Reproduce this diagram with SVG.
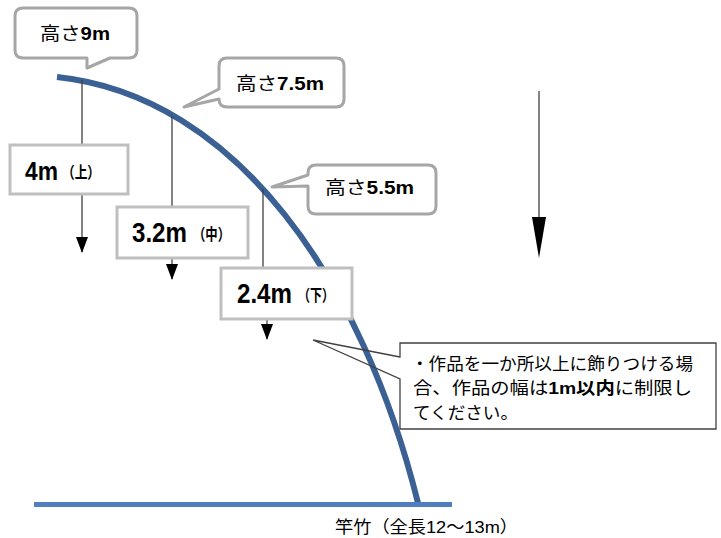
<svg xmlns="http://www.w3.org/2000/svg" width="721" height="538" viewBox="0 0 721 538">
<style>
.bg{fill:#ffffff}
.callout{fill:#ffffff;stroke:#a6a6a6;stroke-width:3;stroke-linejoin:round}
.vbox{fill:#ffffff;stroke:#bfbfbf;stroke-width:3}
.lead{stroke:#404040;stroke-width:1.3;fill:none}
.jp{font-family:"Liberation Sans","Noto Sans CJK JP",sans-serif;fill:#000}
.b{font-weight:bold}
.bamboo{fill:none;stroke:#3a6094;stroke-width:6}
.ground{stroke:#4f7fbe;stroke-width:5}
.note{fill:#ffffff}
.noteline{fill:none;stroke:#404040;stroke-width:1.3}
</style>
<defs>
<marker id="ah" markerUnits="userSpaceOnUse" markerWidth="16" markerHeight="14" refX="15" refY="6" orient="auto" viewBox="0 0 16 12">
<path d="M0,0 L16,6 L0,12 Z" fill="#000"/>
</marker>
</defs>
<rect class="bg" x="0" y="0" width="721" height="538"/>

<g id="bamboo">
<path class="bamboo" d="M57,77 C237,96 363,282 418,503"/>
<line class="ground" x1="34" y1="504.5" x2="452" y2="504.5"/>
</g>

<g id="connectors">
<line class="lead" x1="82" y1="80" x2="82" y2="145"/>
<line class="lead" x1="82" y1="194" x2="82" y2="252" marker-end="url(#ah)"/>
<line class="lead" x1="172" y1="116" x2="172" y2="207"/>
<line class="lead" x1="172" y1="258" x2="172" y2="279" marker-end="url(#ah)"/>
<line class="lead" x1="263" y1="189" x2="263" y2="268"/>
<line class="lead" x1="267" y1="319" x2="267" y2="339" marker-end="url(#ah)"/>
<line class="lead" x1="539" y1="91" x2="539" y2="220"/>
<polygon points="532,217 546,217 539,258" fill="#000"/>
</g>

<g id="callout-9m">
<path class="callout" d="M23,8 H129 Q137,8 137,16 V50 Q137,58 129,58 H110 L87,68 V58 H23 Q15,58 15,50 V16 Q15,8 23,8 Z"/>
<text class="jp" x="40" y="40" font-size="18" textLength="70" lengthAdjust="spacingAndGlyphs">高さ<tspan class="b">9m</tspan></text>
</g>

<g id="callout-7_5m">
<path class="callout" d="M227,58 H336 Q344,58 344,66 V99 Q344,107 336,107 H227 Q219,107 219,99 L184,107 L219,89 V66 Q219,58 227,58 Z"/>
<text class="jp" x="236" y="90" font-size="18" textLength="88" lengthAdjust="spacingAndGlyphs">高さ<tspan class="b">7.5m</tspan></text>
</g>

<g id="callout-5_5m">
<path class="callout" d="M316,165 H428 Q436,165 436,173 V206 Q436,214 428,214 H316 Q308,214 308,206 V186 L272,187 L308,175 V173 Q308,165 316,165 Z"/>
<text class="jp" x="325" y="194" font-size="18" textLength="89" lengthAdjust="spacingAndGlyphs">高さ<tspan class="b">5.5m</tspan></text>
</g>

<g id="box-4m">
<rect class="vbox" x="10" y="145" width="118" height="49"/>
<text class="jp b" x="25" y="180" font-size="25" textLength="33" lengthAdjust="spacingAndGlyphs">4m</text>
<text class="jp b" x="62" y="178" font-size="16" textLength="38" lengthAdjust="spacingAndGlyphs">（上）</text>
</g>

<g id="box-3_2m">
<rect class="vbox" x="117" y="207" width="131" height="51"/>
<text class="jp b" x="132" y="242" font-size="28" textLength="55" lengthAdjust="spacingAndGlyphs">3.2m</text>
<text class="jp b" x="193" y="240" font-size="16" textLength="37" lengthAdjust="spacingAndGlyphs">（中）</text>
</g>

<g id="box-2_4m">
<rect class="vbox" x="221" y="268" width="131" height="51"/>
<text class="jp b" x="237" y="303" font-size="28" textLength="55" lengthAdjust="spacingAndGlyphs">2.4m</text>
<text class="jp b" x="298" y="301" font-size="16" textLength="36" lengthAdjust="spacingAndGlyphs">（下）</text>
</g>

<g id="note">
<rect class="note" x="400" y="343" width="316" height="86"/>
<path class="noteline" d="M400,357 L313,340 L400,379 V429 H716 V343 H400 Z"/>
<text class="jp" x="411" y="370" font-size="17" textLength="282" lengthAdjust="spacingAndGlyphs">・作品を一か所以上に飾りつける場</text>
<text class="jp" x="413" y="394" font-size="17" textLength="279" lengthAdjust="spacingAndGlyphs">合、作品の幅は<tspan class="b">1m以内</tspan>に制限し</text>
<text class="jp" x="413" y="419" font-size="17" textLength="105" lengthAdjust="spacingAndGlyphs">てください。</text>
</g>

<g id="label">
<text class="jp" x="335" y="533" font-size="17" textLength="183" lengthAdjust="spacingAndGlyphs">竿竹（全長12～13m）</text>
</g>
</svg>
